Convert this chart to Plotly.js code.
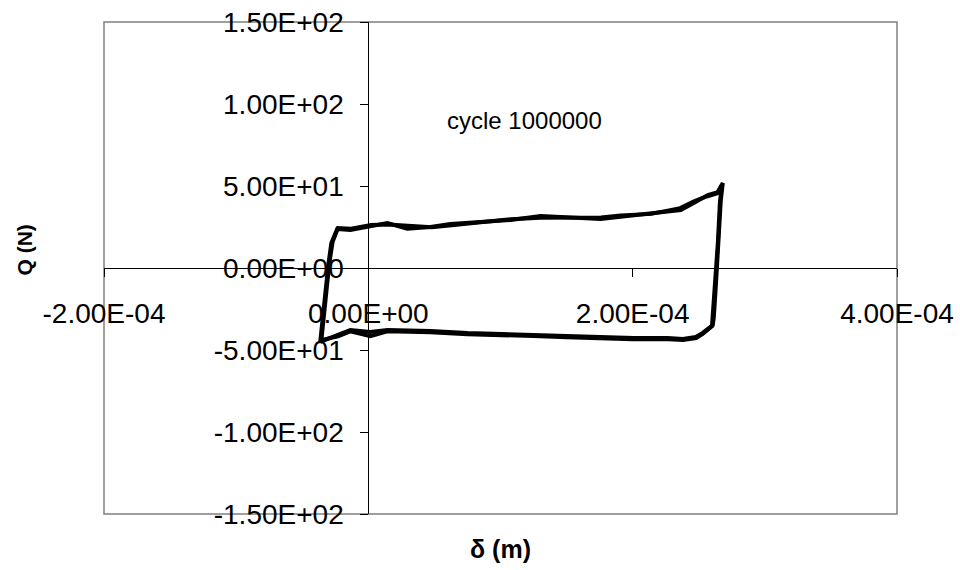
<!DOCTYPE html>
<html>
<head>
<meta charset="utf-8">
<script src="https://cdn.plot.ly/plotly-3.0.1.min.js"></script>
<style>html,body{margin:0;padding:0;background:#fff;}#chart{width:960px;height:570px;}</style>
</head>
<body>
<div id="chart"></div>
<script>
// Displacement delta (m) and force Q (N), first pass of the loop
const deltaA = [-3.64e-5, -3.48e-5, -3.26e-5, -3.03e-5, -2.80e-5, -2.35e-5, -1.36e-5, 1.5e-6, 1.44e-5, 2.95e-5, 4.70e-5, 6.21e-5, 8.48e-5, 1.076e-4, 1.303e-4, 1.53e-4, 1.758e-4, 1.909e-4, 2.136e-4, 2.364e-4, 2.462e-4, 2.568e-4, 2.644e-4, 2.682e-4, 2.667e-4, 2.652e-4, 2.63e-4, 2.614e-4, 2.606e-4, 2.53e-4, 2.477e-4, 2.38e-4, 2.265e-4, 2.008e-4, 1.758e-4, 1.50e-4, 1.25e-4, 1.0e-4, 7.5e-5, 4.7e-5, 1.44e-5, 1.5e-6, -1.36e-5, -2.35e-5, -3.64e-5];
const forceA = [-45.1, -31.7, -13.4, 1.8, 15.2, 23.8, 23.2, 25.6, 27.4, 24.0, 25.0, 26.8, 28.1, 29.3, 31.7, 30.5, 29.9, 31.2, 33.5, 35.4, 39.6, 44.5, 46.3, 51.8, 41.5, 17.1, -10.0, -30.0, -34.8, -39.6, -42.1, -43.3, -42.7, -42.7, -42.1, -41.5, -40.9, -40.2, -39.6, -38.4, -37.8, -39.0, -37.8, -40.9, -45.1];
// second pass of the loop
const deltaB = [-3.55e-5, -3.40e-5, -3.15e-5, -2.95e-5, -2.70e-5, -2.30e-5, -1.30e-5, 2.0e-6, 1.50e-5, 3.0e-5, 4.8e-5, 6.3e-5, 8.5e-5, 1.08e-4, 1.30e-4, 1.53e-4, 1.76e-4, 1.91e-4, 2.14e-4, 2.36e-4, 2.46e-4, 2.56e-4, 2.64e-4, 2.675e-4, 2.66e-4, 2.645e-4, 2.625e-4, 2.61e-4, 2.60e-4, 2.53e-4, 2.48e-4, 2.38e-4, 2.27e-4, 2.0e-4, 1.76e-4, 1.50e-4, 1.25e-4, 1.0e-4, 7.5e-5, 4.7e-5, 1.44e-5, 1.5e-6, -1.36e-5, -2.30e-5, -3.55e-5];
const forceB = [-44.0, -30.5, -12.0, 3.0, 16.0, 24.4, 24.0, 26.2, 26.6, 25.6, 24.8, 26.0, 27.8, 29.8, 30.6, 31.0, 30.8, 32.0, 33.0, 36.5, 40.5, 43.6, 45.6, 50.5, 40.0, 16.0, -11.0, -31.0, -35.5, -40.2, -42.8, -43.9, -43.5, -43.4, -43.0, -42.2, -41.5, -41.0, -40.4, -39.2, -38.6, -41.6, -38.6, -41.6, -44.0];

const xTickVals = [-2e-4, 0, 2e-4, 4e-4];
const xTickText = ['-2.00E-04', '0.00E+00', '2.00E-04', '4.00E-04'];
const yTickVals = [-150, -100, -50, 0, 50, 100, 150];
const yTickText = ['-1.50E+02', '-1.00E+02', '-5.00E+01', '0.00E+00', '5.00E+01', '1.00E+02', '1.50E+02'];

const FONT = 'Liberation Sans, Arial, sans-serif';
const lineStyle = {color: '#000000', width: 4};

const traces = [
  {x: deltaA, y: forceA, mode: 'lines', line: lineStyle, hoverinfo: 'skip'},
  {x: deltaB, y: forceB, mode: 'lines', line: lineStyle, hoverinfo: 'skip'}
];

const layout = {
  width: 960, height: 570,
  margin: {l: 104, r: 63, t: 22, b: 56, pad: 0},
  paper_bgcolor: '#ffffff', plot_bgcolor: '#ffffff',
  showlegend: false,
  font: {family: FONT, size: 28, color: '#000000'},
  xaxis: {
    range: [-2e-4, 4e-4], domain: [0, 1],
    anchor: 'free', position: 0.5,
    tickvals: xTickVals, ticktext: xTickText,
    showgrid: false, zeroline: false,
    showline: true, linecolor: '#000000', linewidth: 1,
    ticks: 'outside', ticklen: 8, tickcolor: '#000000', tickwidth: 1,
    ticklabelstandoff: 12,
    tickfont: {family: FONT, size: 28, color: '#000000'}
  },
  yaxis: {
    range: [-150, 150], domain: [0, 1],
    anchor: 'free', position: 1/3,
    tickvals: yTickVals, ticktext: yTickText,
    showgrid: false, zeroline: false,
    showline: true, linecolor: '#000000', linewidth: 1,
    ticks: 'outside', ticklen: 8, tickcolor: '#000000', tickwidth: 1,
    ticklabelstandoff: 11,
    tickfont: {family: FONT, size: 28, color: '#000000'}
  },
  shapes: [
    {type: 'rect', xref: 'paper', yref: 'paper', x0: 0, x1: 1, y0: 0, y1: 1,
     line: {color: '#808080', width: 1.5}, fillcolor: 'rgba(0,0,0,0)', layer: 'below'}
  ],
  annotations: [
    {text: 'cycle 1000000', xref: 'x', yref: 'y', x: 0.58e-4, y: 90, xanchor: 'left', yanchor: 'middle',
     showarrow: false, font: {family: FONT, size: 24, color: '#000000'}},
    {text: '<b>δ (m)</b>', xref: 'paper', yref: 'paper', x: 0.5, y: -0.072, xanchor: 'center', yanchor: 'middle',
     showarrow: false, font: {family: FONT, size: 25, color: '#000000'}},
    {text: '<b>Q (N)</b>', xref: 'paper', yref: 'paper', x: -0.1, y: 0.537, xanchor: 'center', yanchor: 'middle',
     textangle: -90, showarrow: false, font: {family: FONT, size: 21, color: '#000000'}}
  ]
};

Plotly.newPlot('chart', traces, layout, {staticPlot: true, displayModeBar: false});
</script>
</body>
</html>
